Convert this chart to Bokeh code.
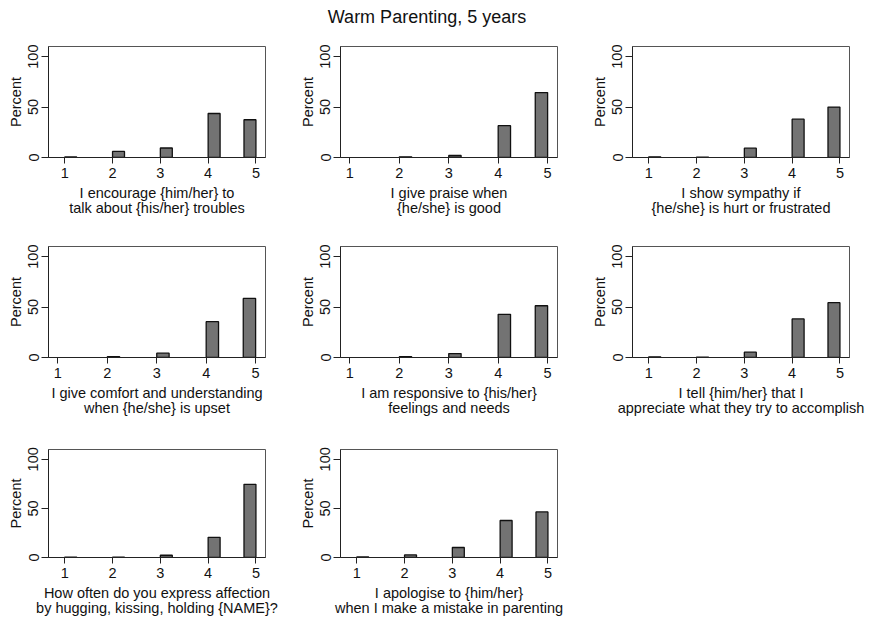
import math
from bokeh.plotting import figure
from bokeh.layouts import row, column
from bokeh.models import ColumnDataSource, FixedTicker, Spacer, Range1d
from bokeh.core.properties import value
from bokeh.embed import file_html
from bokeh.resources import INLINE

# ---------------- data ----------------
title_text = "Warm Parenting, 5 years"
responses = [1, 2, 3, 4, 5]
y_ticks = [0, 50, 100]

labels = [
    "I encourage {him/her} to\ntalk about {his/her} troubles",
    "I give praise when\n{he/she} is good",
    "I show sympathy if\n{he/she} is hurt or frustrated",
    "I give comfort and understanding\nwhen {he/she} is upset",
    "I am responsive to {his/her}\nfeelings and needs",
    "I tell {him/her} that I\nappreciate what they try to accomplish",
    "How often do you express affection\nby hugging, kissing, holding {NAME}?",
    "I apologise to {him/her}\nwhen I make a mistake in parenting",
]

pct_encourage = [0.5, 6.0, 9.4, 43.6, 37.4]
pct_praise = [0.0, 0.7, 2.0, 31.5, 64.3]
pct_sympathy = [0.7, 0.4, 9.2, 38.0, 50.0]
pct_comfort = [0.0, 0.8, 4.3, 35.5, 58.5]
pct_responsive = [0.0, 0.8, 3.9, 42.8, 51.3]
pct_tell = [0.7, 0.4, 5.3, 38.2, 54.3]
pct_affection = [0.4, 0.3, 2.3, 20.5, 74.5]
pct_apologise = [0.5, 2.6, 10.2, 37.7, 46.4]

series = [pct_encourage, pct_praise, pct_sympathy, pct_comfort,
          pct_responsive, pct_tell, pct_affection, pct_apologise]

# histogram bins (width 0.25, last bin closed at 5)
BIN_W = 0.25
FONT = "Liberation Sans"
TXT = "#111111"

CELL_W = 292
TITLE_H = 30
row_specs = [  # (height, top border, bottom border)
    (200, 16, 73),
    (202, 16, 75),
    (186, 17, 58),
]


def make_panel(i, vals, spec):
    h, top, bottom = spec
    x_min = min(r for r, v in zip(responses, vals) if v > 0)
    x_start = 0.66 if x_min == 1 else 0.81
    p = figure(width=CELL_W, height=h, output_backend="svg",
               toolbar_location=None,
               x_range=Range1d(x_start, 5.2), y_range=Range1d(0, 110),
               min_border_left=48, min_border_right=27,
               min_border_top=top, min_border_bottom=bottom)
    left, right, tops = [], [], []
    for r, v in zip(responses, vals):
        if v <= 0:
            continue
        l = min(r, responses[-1] - BIN_W)
        left.append(l)
        right.append(l + BIN_W)
        tops.append(v)
    src = ColumnDataSource(dict(left=left, right=right, top=tops,
                                bottom=[0] * len(tops)))
    p.quad(left="left", right="right", top="top", bottom="bottom",
           source=src, fill_color="#737373", line_color="#111111",
           line_width=1.3)
    p.grid.visible = False
    p.background_fill_color = "white"
    p.border_fill_color = "white"
    p.outline_line_color = "#555555"
    p.outline_line_width = 1

    xa = p.xaxis[0]
    xa.ticker = FixedTicker(ticks=responses)
    xa.axis_label = labels[i]
    xa.axis_label_text_font = FONT
    xa.axis_label_text_font_size = "14.5px"
    xa.axis_label_text_font_style = "normal"
    xa.axis_label_text_color = TXT
    xa.axis_label_text_line_height = 0.95
    xa.axis_label_standoff = 4
    xa.major_label_text_font = FONT
    xa.major_label_text_font_size = "14.5px"
    xa.major_label_text_color = TXT
    xa.major_label_standoff = 4
    xa.major_tick_out = 6
    xa.major_tick_in = 0
    xa.minor_tick_out = 0
    xa.minor_tick_in = 0
    xa.axis_line_color = "#222222"
    xa.major_tick_line_color = "#222222"

    ya = p.yaxis[0]
    ya.ticker = FixedTicker(ticks=y_ticks)
    ya.axis_label = "Percent"
    ya.axis_label_text_font = FONT
    ya.axis_label_text_font_size = "14.5px"
    ya.axis_label_text_font_style = "normal"
    ya.axis_label_text_color = TXT
    ya.axis_label_standoff = 2
    ya.major_label_text_font = FONT
    ya.major_label_text_font_size = "14.5px"
    ya.major_label_text_color = TXT
    ya.major_label_orientation = "parallel"
    ya.major_label_standoff = 3
    ya.major_tick_out = 7
    ya.major_tick_in = 0
    ya.minor_tick_out = 0
    ya.minor_tick_in = 0
    ya.axis_line_color = "#222222"
    ya.major_tick_line_color = "#222222"
    return p


panels = []
for i, vals in enumerate(series):
    spec = row_specs[i // 3]
    panels.append(make_panel(i, vals, spec))

# overall title strip
W = 3 * CELL_W
tfig = figure(width=W, height=TITLE_H, output_backend="svg",
              toolbar_location=None, x_range=Range1d(0, W),
              y_range=Range1d(0, TITLE_H), min_border=0)
tfig.axis.visible = False
tfig.grid.visible = False
tfig.outline_line_color = None
tfig.text(x=[426.5], y=[TITLE_H - 16], text=[title_text],
          text_font=value(FONT), text_font_size="18px",
          text_align="center", text_baseline="middle", text_color=TXT)

layout = column(
    tfig,
    row(panels[0], panels[1], panels[2]),
    row(panels[3], panels[4], panels[5]),
    row(panels[6], panels[7], Spacer(width=CELL_W, height=row_specs[2][0])),
)

open("out.html", "w").write(file_html(layout, INLINE))
